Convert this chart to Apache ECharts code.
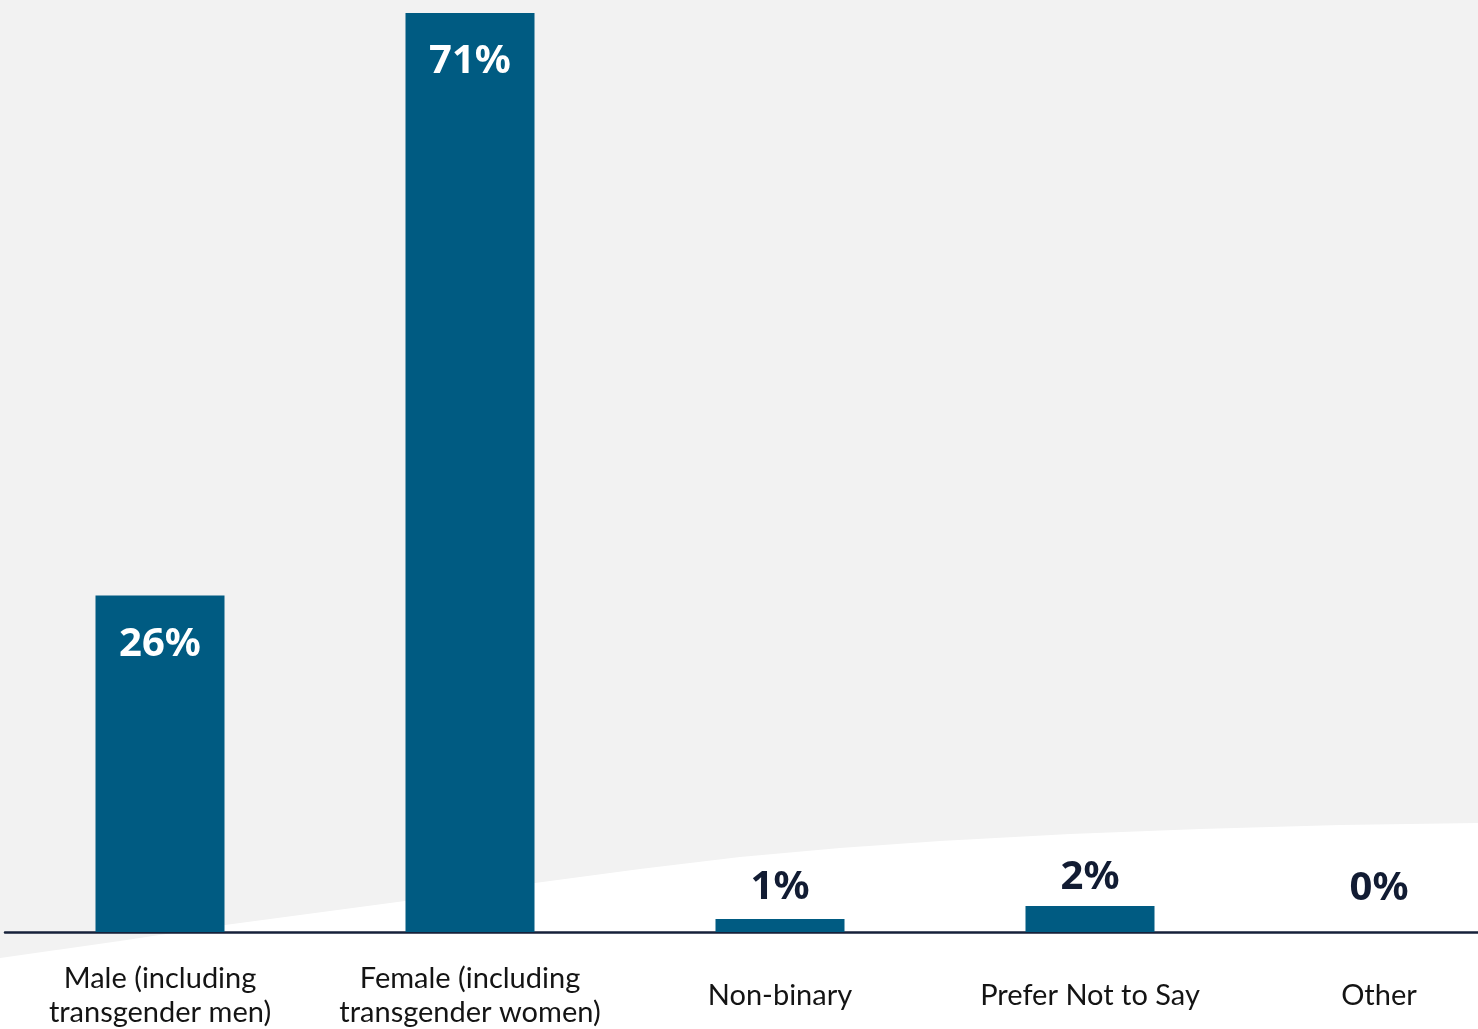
<!DOCTYPE html>
<html>
<head>
<meta charset="utf-8">
<title>Gender</title>
<script src="https://cdn.jsdelivr.net/npm/echarts@6/dist/echarts.min.js"></script>
<style>
  html, body { margin: 0; padding: 0; background: #f2f2f2; }
  #chart { width: 1478px; height: 1029px; }
</style>
</head>
<body>
<div id="chart"></div>
<script>
// Survey responses by gender (share of respondents, %)
const categories = [
  'Male (including\ntransgender men)',
  'Female (including\ntransgender women)',
  'Non-binary',
  'Prefer Not to Say',
  'Other'
];
const shares = [26, 71, 1, 2, 0];

const BAR = '#005b82';
const INK = '#121c33';
const LABEL_FONT = 'Lato, "Noto Sans", sans-serif';
const VALUE_FONT = '"Noto Sans", Lato, sans-serif';

// Tall bars carry their value inside; short ones carry it above the bar.
function labelFor(v, i) {
  if (v >= 10) {
    return { show: true, position: 'insideTop', distance: 29, color: '#ffffff' };
  }
  const above = { 2: 11, 3: 9, 4: 23 };
  const lab = { show: true, position: 'top', distance: above[i] ?? 10, color: INK };
  if (i === categories.length - 1) lab.offset = [-21, 0];
  return lab;
}

const seriesData = shares.map((v, i) => ({ value: v, label: labelFor(v, i) }));

const chart = echarts.init(document.getElementById('chart'), null, { renderer: 'canvas' });

chart.setOption({
  backgroundColor: '#f2f2f2',
  animation: false,
  graphic: [{
    type: 'polygon',
    z: -10,
    silent: true,
    shape: {
      points: [
        [0, 958], [120, 941], [225, 925], [330, 911], [420, 899], [535, 883],
        [640, 869], [740, 857], [840, 848], [940, 841], [1070, 834], [1200, 829],
        [1340, 825], [1478, 823], [1478, 1029], [0, 1029]
      ]
    },
    style: { fill: '#ffffff' }
  }],
  // the last category slot runs past the right edge of the canvas
  grid: {
    left: 5, top: 0, width: 1550, height: 932,
    containLabel: false,
    outerBoundsMode: 'none'
  },
  xAxis: {
    type: 'category',
    data: categories,
    axisLine: { show: true, lineStyle: { color: '#16213a', width: 2.5 } },
    axisTick: { show: false },
    axisLabel: {
      interval: 0,
      margin: 64,
      verticalAlign: 'middle',
      color: '#141414',
      fontFamily: LABEL_FONT,
      fontSize: 29,
      lineHeight: 34,
      formatter: (v, i) => (i === categories.length - 1 ? '{shift|' + v + '}' : v),
      rich: {
        shift: {
          fontFamily: LABEL_FONT,
          fontSize: 29,
          color: '#141414',
          padding: [0, 42, 0, 0]
        }
      }
    }
  },
  yAxis: {
    type: 'value',
    min: 0,
    max: 72,
    show: false,
    splitLine: { show: false }
  },
  series: [{
    type: 'bar',
    data: seriesData,
    barWidth: 129,
    itemStyle: { color: BAR },
    label: {
      fontFamily: VALUE_FONT,
      fontSize: 40,
      fontWeight: 'bold',
      formatter: p => p.value + '%'
    }
  }]
});
</script>
</body>
</html>
